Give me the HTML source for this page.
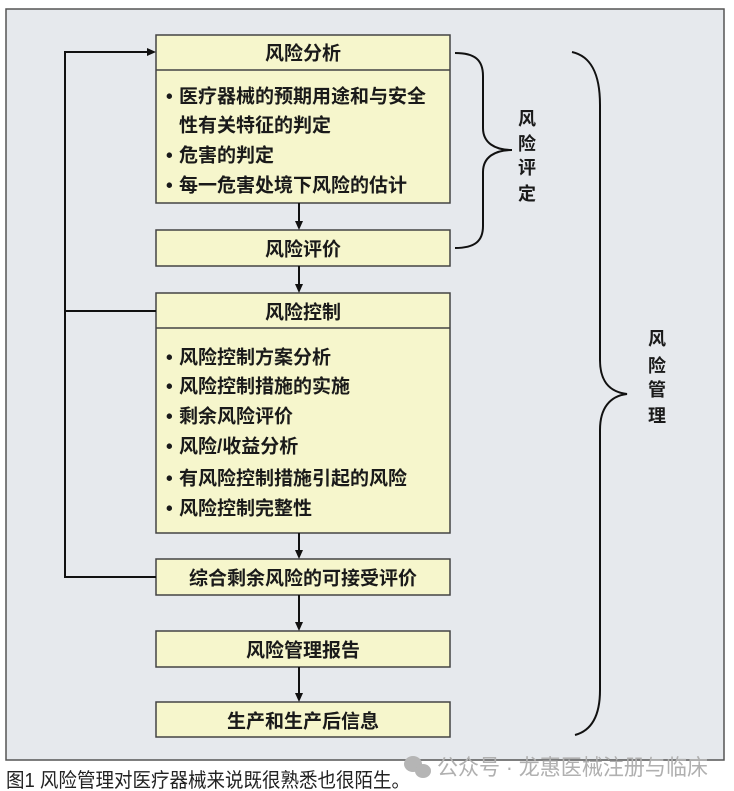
<!DOCTYPE html>
<html><head><meta charset="utf-8"><style>
html,body{margin:0;padding:0;background:#fff;}
svg{display:block;}
text{font-family:"Liberation Sans","Noto Sans CJK SC",sans-serif;}
.b{font-weight:700;font-size:19px;fill:#1a1a1a;}
.s{font-weight:700;font-size:18px;fill:#1a1a1a;}
</style></head><body>
<svg width="734" height="791" viewBox="0 0 734 791" xmlns="http://www.w3.org/2000/svg">
<rect x="0" y="0" width="734" height="791" fill="#fff"/>
<rect x="6" y="9" width="718" height="751" fill="#e6e9ed" stroke="#555" stroke-width="1.5"/>

<g fill="#f6f6cc" stroke="#444" stroke-width="1.5">
<rect x="156" y="35" width="294" height="168"/>
<rect x="156" y="230" width="294" height="36"/>
<rect x="156" y="293" width="294" height="240"/>
<rect x="156" y="559" width="294" height="36"/>
<rect x="156" y="631" width="294" height="36"/>
<rect x="156" y="702" width="294" height="35"/>
</g>
<line x1="156" y1="70" x2="450" y2="70" stroke="#444" stroke-width="1.5"/>
<line x1="156" y1="328" x2="450" y2="328" stroke="#444" stroke-width="1.5"/>

<g stroke="#111" stroke-width="2" fill="none">
<line x1="299" y1="203" x2="299" y2="222"/>
<line x1="299" y1="266" x2="299" y2="285"/>
<line x1="299" y1="533" x2="299" y2="551"/>
<line x1="299" y1="595" x2="299" y2="623"/>
<line x1="299" y1="667" x2="299" y2="694"/>
<polyline points="156,577 65,577 65,52 148,52"/>
<line x1="65" y1="311" x2="156" y2="311"/>
</g>
<g fill="#111">
<polygon points="295,221 303,221 299,230"/>
<polygon points="295,284 303,284 299,293"/>
<polygon points="295,550 303,550 299,559"/>
<polygon points="295,622 303,622 299,631"/>
<polygon points="295,693 303,693 299,702"/>
<polygon points="147,48 147,56 156,52"/>
</g>

<g class="b" text-anchor="middle" dominant-baseline="central">
<text x="303" y="54">风险分析</text>
<text x="303" y="250">风险评价</text>
<text x="303" y="313">风险控制</text>
<text x="303" y="579">综合剩余风险的可接受评价</text>
<text x="303" y="651">风险管理报告</text>
<text x="303" y="722">生产和生产后信息</text>
</g>

<g class="b" dominant-baseline="central">
<text x="166" y="97">•</text><text x="179" y="97">医疗器械的预期用途和与安全</text>
<text x="179" y="126">性有关特征的判定</text>
<text x="166" y="156">•</text><text x="179" y="156">危害的判定</text>
<text x="166" y="186">•</text><text x="179" y="186">每一危害处境下风险的估计</text>

<text x="166" y="358">•</text><text x="179" y="358">风险控制方案分析</text>
<text x="166" y="387">•</text><text x="179" y="387">风险控制措施的实施</text>
<text x="166" y="417">•</text><text x="179" y="417">剩余风险评价</text>
<text x="166" y="447">•</text><text x="179" y="447">风险/收益分析</text>
<text x="166" y="479">•</text><text x="179" y="479">有风险控制措施引起的风险</text>
<text x="166" y="509">•</text><text x="179" y="509">风险控制完整性</text>
</g>

<g stroke="#111" stroke-width="2" fill="none">
<path d="M455,53 C475,53 483,60 483,76 L483,128 C483,143 495,150 512,150 C495,150 483,157 483,172 L483,226 C483,241 475,248 455,248"/>
<path d="M572,52 C590,56 600,72 600,105 L600,360 C600,382 610,392 627,394 C610,396 600,408 600,430 L600,690 C600,718 590,731 575,735"/>
</g>

<g class="s" text-anchor="middle" dominant-baseline="central">
<text x="527" y="119">风</text>
<text x="527" y="144">险</text>
<text x="527" y="168">评</text>
<text x="527" y="194">定</text>
<text x="657" y="339">风</text>
<text x="657" y="366">险</text>
<text x="657" y="390">管</text>
<text x="657" y="416">理</text>
</g>

<text x="6" y="787" font-size="20" fill="#222" textLength="404" lengthAdjust="spacingAndGlyphs">图1 风险管理对医疗器械来说既很熟悉也很陌生。</text>

<g fill="#b5b5b5">
<ellipse cx="413" cy="764" rx="9" ry="8"/>
<ellipse cx="423" cy="771" rx="8" ry="7"/>
</g>
<text x="437" y="775" font-size="22" fill="#b0b0b0" textLength="271" lengthAdjust="spacingAndGlyphs">公众号 · 龙惠医械注册与临床</text>
</svg>
</body></html>
